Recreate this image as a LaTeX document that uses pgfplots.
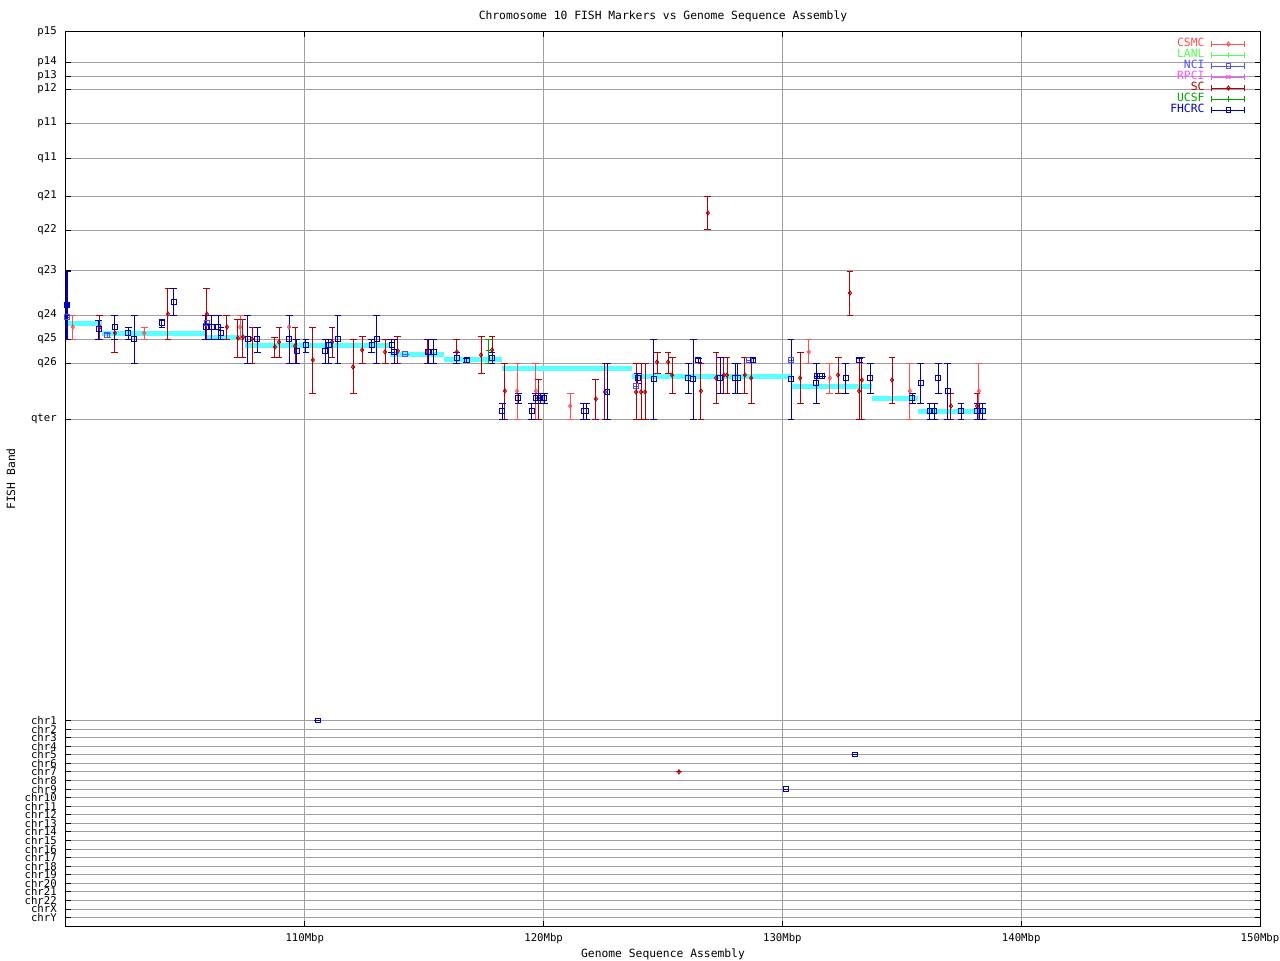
\documentclass[border=0pt]{standalone}
\usepackage{pgfplots}
\usepackage{pgfplotstable}
\pgfplotsset{compat=1.18}
\usepackage{fontspec}
\setmainfont{DejaVu Sans Mono}

\definecolor{csmc}{RGB}{255,80,80}
\definecolor{lanl}{RGB}{80,255,80}
\definecolor{nci}{RGB}{80,80,255}
\definecolor{rpci}{RGB}{255,80,255}
\definecolor{sc}{RGB}{180,0,0}
\definecolor{ucsf}{RGB}{0,160,0}
\definecolor{fhcrc}{RGB}{0,0,195}
\definecolor{seqcyan}{RGB}{90,255,255}
\definecolor{gridgray}{RGB}{160,160,160}

% x in Mbp, y = band position (axis runs top to bottom), lo/hi = band range
\pgfplotstableread{
x y lo hi
100.29 327 315 339
103.27 333 327 339
107.29 327 315 339
109.34 327 315 339
118.89 391 363 419
119.68 391 363 419
121.11 406 393 419
131.11 352 339 363
131.99 378 363 393
135.34 391 363 419
138.23 391 363 419
}\csmcdata

\pgfplotstableread{
x y lo hi
100.04 317 317 317
101.72 335 333 337
105.90 323 323 323
114.20 354 354 354
123.87 386 386 386
128.60 360 360 360
130.36 360 360 360
}\ncidata

\pgfplotstableread{
x y lo hi
101.42 327 315 339
102.05 333 315 352
104.27 314 288 339
105.90 314 288 339
106.74 327 315 339
107.20 338 319 357
107.41 337 319 357
107.79 339 327 363
108.75 347 337 357
108.92 342 327 357
109.59 346 327 363
110.34 360 327 393
111.14 342 327 357
112.02 367 339 393
112.40 350 336 363
113.36 352 339 363
113.90 351 336 363
115.12 352 339 363
116.37 352 339 363
117.38 355 336 373
117.84 350 336 363
118.38 391 363 419
119.77 398 379 419
122.19 399 379 419
122.57 392 363 419
123.87 392 363 419
124.08 392 363 419
124.25 392 363 419
124.75 362 352 373
125.21 362 352 373
125.38 375 357 393
125.67 771.9 771.9 771.9
126.59 391 363 419
126.88 213 196 229
127.22 378 352 403
127.55 375 357 393
127.68 375 357 393
128.43 375 357 393
128.69 378 357 403
130.74 378 352 403
132.33 375 357 393
132.83 293 271 315
133.21 391 357 419
133.33 380 357 419
134.59 380 357 403
137.06 406 393 419
138.15 406 393 419
}\scdata

\pgfplotstableread{
x y lo hi
117.71 350 339 363
}\ucsfdata

\pgfplotstableread{
x y lo hi
100.02 305 271 339
100.06 305 271 339
101.38 329 320 339
102.05 327 315 339
102.60 333 327 339
102.85 339 315 363
104.02 323 319 327
104.52 302 288 315
105.86 327 315 339
106.11 327 315 339
106.37 327 315 339
106.49 333 327 339
107.62 339 315 363
108.00 339 327 352
109.34 339 315 363
109.67 351 339 363
110.05 345 339 352
110.55 720.5 720.5 720.5
110.85 351 339 363
111.01 345 339 363
111.39 339 315 363
112.81 345 339 352
113.02 339 315 363
113.65 345 339 352
113.74 352 339 363
115.16 352 339 363
115.41 352 339 363
116.37 358 352 363
116.79 360 358 362
117.84 358 352 363
118.26 411 403 419
118.93 398 393 403
119.51 411 403 419
119.68 398 393 403
119.85 398 393 403
120.02 398 393 403
121.69 411 403 419
121.78 411 403 419
122.66 392 363 419
123.95 378 373 383
124.62 379 339 419
126.05 378 363 393
126.26 379 339 419
126.47 360 358 362
127.39 378 357 393
128.02 378 363 393
128.14 378 363 393
128.77 360 358 362
130.15 789.1 789.1 789.1
130.36 379 339 419
131.41 383 363 403
131.45 376 376 376
131.57 376 376 376
131.66 376 376 376
132.66 378 363 393
133.04 754.8 754.8 754.8
133.21 360 358 362
133.67 378 363 393
135.43 398 393 403
135.80 383 363 403
136.18 411 403 419
136.35 411 403 419
136.52 378 363 393
136.93 391 363 419
137.48 411 403 419
138.15 411 403 419
138.27 411 403 419
138.40 411 403 419
}\fhcrcdata

\begin{document}
\begin{tikzpicture}
\useasboundingbox (-49.5pt,-25.5pt) rectangle (910.5pt,694.5pt);
\begin{axis}[
    scale only axis,
    width=895.5pt, height=670.5pt,
    xmin=100, xmax=150,
    ymin=32, ymax=926, y dir=reverse,
    xtick={110,120,130,140,150},
    xticklabels={110Mbp,120Mbp,130Mbp,140Mbp,150Mbp},
    ytick={32,62,76,89,123,158,196,230,270.5,315,339,363,419,
        720.5,729.1,737.6,746.2,754.8,763.4,771.9,780.5,789.1,797.6,806.2,814.8,
        823.3,831.9,840.5,849.1,857.6,866.2,874.8,883.3,891.9,900.5,909.0,917.6},
    yticklabels={p15,p14,p13,p12,p11,q11,q21,q22,q23,q24,q25,q26,qter,
        chr1,chr2,chr3,chr4,chr5,chr6,chr7,chr8,chr9,chr10,chr11,chr12,chr13,
        chr14,chr15,chr16,chr17,chr18,chr19,chr20,chr21,chr22,chrX,chrY},
    grid=major,
    major grid style={line width=0.75pt, gridgray},
    tick align=inside,
    major tick length=3.75pt,
    tick style={black, line width=0.75pt},
    axis line style={line width=0.75pt},
    /pgf/number format/assume math mode=true,
    tick label style={font=\fontsize{8}{9}\selectfont},
    yticklabel style={inner sep=0pt, xshift=-6.75pt},
    xticklabel style={inner sep=0pt, yshift=-5pt},
    title={Chromosome 10 FISH Markers vs Genome Sequence Assembly},
    title style={at={(0.5,1)}, anchor=center, yshift=6pt, font=\fontsize{8.5}{10}\selectfont},
    xlabel={Genome Sequence Assembly},
    xlabel style={at={(0.5,0)}, anchor=center, yshift=-21.5pt, font=\fontsize{8.5}{10}\selectfont},
    ylabel={FISH Band},
    ylabel style={at={(0,0.5)}, anchor=center, yshift=41.25pt, font=\fontsize{8.5}{10}\selectfont},
    every axis plot/.append style={line width=0.75pt},
    fishbar/.style={#1, only marks,
        error bars/y dir=both, error bars/y explicit,
        error bars/error bar style={#1, line width=0.75pt, solid},
        error bars/error mark options={#1, line width=0.75pt, mark size=2.6pt, solid, rotate=90}},
    legend image code/.code={
        \draw[#1, mark=none] (0pt,0pt) -- (24.75pt,0pt);
        \draw[#1, mark=none] (0pt,-2.6pt) -- (0pt,2.6pt) (24.75pt,-2.6pt) -- (24.75pt,2.6pt);
        \draw[#1] plot coordinates {(12.375pt,0pt)};
    },
    legend plot pos=right,
    legend cell align=right,
    legend style={at={(0.988,0.993)}, anchor=north east, draw=none, fill=none,
        inner sep=0pt, row sep=0pt, column sep=5.25pt,
        font=\fontsize{8.5}{10}\selectfont,
        nodes={inner sep=0pt, text height=6.2pt, text depth=2.05pt}},
]
% sequence assembly placement
\addplot[seqcyan, line width=3.75pt, forget plot, unbounded coords=jump] coordinates {
    (100.00,323) (101.50,323) (101.50,nan)
    (101.50,333) (105.90,333) (105.90,nan)
    (105.90,337) (107.50,337) (107.50,nan)
    (107.50,345) (113.57,345) (113.57,nan)
    (113.57,354) (115.85,354) (115.85,nan)
    (115.85,359) (118.25,359) (118.25,nan)
    (118.25,368) (123.72,368) (123.72,nan)
    (123.72,376) (130.34,376) (130.34,nan)
    (130.34,386) (133.75,386) (133.75,nan)
    (133.75,398) (135.68,398) (135.68,nan)
    (135.68,411) (138.48,411)
};

\addplot[fishbar=csmc, mark=diamond, mark size=1.5pt, mark options={fill=white}]
    table[x=x, y=y, y error plus expr=\thisrow{hi}-\thisrow{y}, y error minus expr=\thisrow{y}-\thisrow{lo}] {\csmcdata};
\addlegendentry{\textcolor{csmc}{CSMC}}
\addlegendimage{lanl, only marks, mark=+, mark size=2.2pt}
\addlegendentry{\textcolor{lanl}{LANL}}
\addplot[fishbar=nci, mark=square, mark size=1.6pt]
    table[x=x, y=y, y error plus expr=\thisrow{hi}-\thisrow{y}, y error minus expr=\thisrow{y}-\thisrow{lo}] {\ncidata};
\addlegendentry{\textcolor{nci}{NCI}}
\addlegendimage{rpci, only marks, mark=x, mark size=2pt}
\addlegendentry{\textcolor{rpci}{RPCI}}
\addplot[fishbar=sc, mark=diamond, mark size=1.5pt, mark options={fill=white}]
    table[x=x, y=y, y error plus expr=\thisrow{hi}-\thisrow{y}, y error minus expr=\thisrow{y}-\thisrow{lo}] {\scdata};
\addlegendentry{\textcolor{sc}{SC}}
\addplot[fishbar=ucsf, mark=+, mark size=2.2pt]
    table[x=x, y=y, y error plus expr=\thisrow{hi}-\thisrow{y}, y error minus expr=\thisrow{y}-\thisrow{lo}] {\ucsfdata};
\addlegendentry{\textcolor{ucsf}{UCSF}}
\addplot[fishbar=fhcrc, mark=square, mark size=1.6pt]
    table[x=x, y=y, y error plus expr=\thisrow{hi}-\thisrow{y}, y error minus expr=\thisrow{y}-\thisrow{lo}] {\fhcrcdata};
\addlegendentry{\textcolor{fhcrc}{FHCRC}}
\end{axis}
\end{tikzpicture}
\end{document}
